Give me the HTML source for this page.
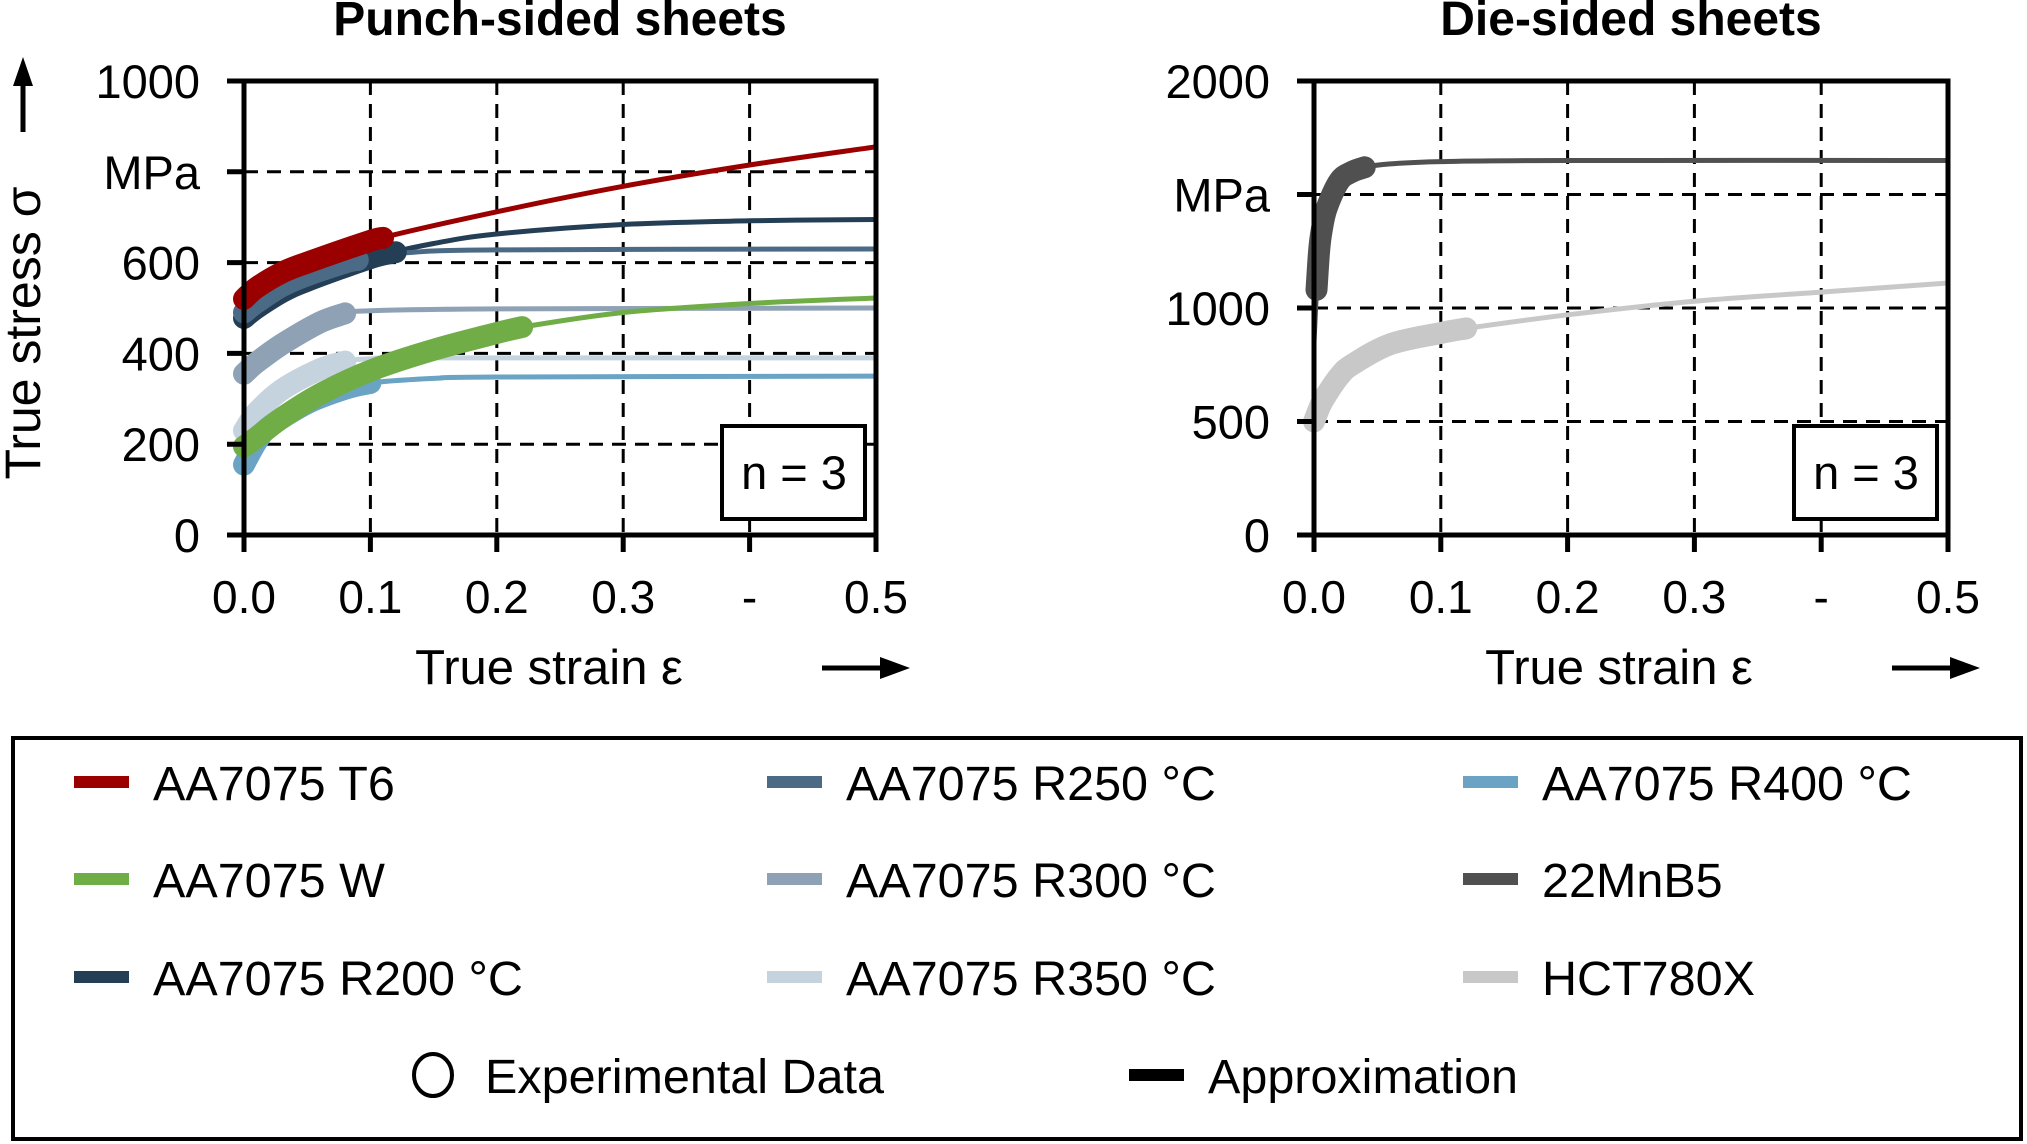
<!DOCTYPE html>
<html><head><meta charset="utf-8"><style>
html,body{margin:0;padding:0;background:#fff;}
svg{display:block;font-family:"Liberation Sans",sans-serif;}
</style></head><body>
<svg id="chart" width="2027" height="1144" viewBox="0 0 2027 1144" xmlns="http://www.w3.org/2000/svg">
<g id="plots"></g>
<g id="legend">
<rect x="13" y="738" width="2008" height="401" fill="none" stroke="#000" stroke-width="4"/>
</g>
</svg>
<script>
const xTicks = [0, 0.1, 0.2, 0.3, 0.4, 0.5];
const xTickLabels = ["0.0", "0.1", "0.2", "0.3", "-", "0.5"];
const leftYTicks = [0, 200, 400, 600, 800, 1000];
const leftYLabels = ["0", "200", "400", "600", "MPa", "1000"];
const rightYTicks = [0, 500, 1000, 1500, 2000];
const rightYLabels = ["0", "500", "1000", "MPa", "2000"];

const seriesNames = ["AA7075 T6","AA7075 W","AA7075 R200 °C","AA7075 R250 °C","AA7075 R300 °C","AA7075 R350 °C","AA7075 R400 °C","22MnB5","HCT780X"];
const seriesColors = ["#9b0000","#70ad47","#243f55","#4a6a86","#8fa2b5","#c5d3df","#6aa3c4","#505050","#c8c8c8"];

const t6Strain = [0,0.01,0.03,0.05,0.1,0.2,0.3,0.4,0.5];
const t6Stress = [520,545,578,600,648,712,768,815,855];
const t6ExpEnd = 0.11;
const r350Strain = [0,0.01,0.03,0.06,0.08,0.1,0.15,0.5];
const r350Stress = [230,270,320,365,382,388,390,390];
const r350ExpEnd = 0.08;
const r400Strain = [0,0.01,0.02,0.05,0.08,0.1,0.15,0.2,0.5];
const r400Stress = [155,205,238,290,322,335,345,348,350];
const r400ExpEnd = 0.1;
const r300Strain = [0,0.01,0.03,0.06,0.08,0.1,0.2,0.5];
const r300Stress = [355,380,420,468,488,494,498,500];
const r300ExpEnd = 0.08;
const wStrain = [0,0.01,0.03,0.06,0.1,0.15,0.2,0.22,0.3,0.4,0.5];
const wStress = [195,215,258,310,362,408,445,458,490,510,522];
const wExpEnd = 0.22;
const r250Strain = [0,0.01,0.03,0.05,0.08,0.1,0.13,0.2,0.5];
const r250Stress = [490,512,548,572,600,612,622,628,630];
const r250ExpEnd = 0.09;
const r200Strain = [0,0.01,0.03,0.05,0.1,0.15,0.2,0.3,0.4,0.5];
const r200Stress = [478,500,535,560,610,642,663,684,692,695];
const r200ExpEnd = 0.12;
const mnbStrain = [0,0.002,0.004,0.006,0.01,0.02,0.03,0.04,0.06,0.1,0.2,0.5];
const mnbStress = [850,1080,1250,1340,1440,1560,1600,1620,1635,1645,1650,1650];
const mnbExpStart = 0.002;
const mnbExpEnd = 0.04;
const hctStrain = [0,0.005,0.01,0.02,0.03,0.06,0.1,0.12,0.2,0.3,0.4,0.5];
const hctStress = [500,570,620,700,750,840,890,910,970,1030,1070,1110];
const hctExpEnd = 0.12;

const NS = "http://www.w3.org/2000/svg";
function mk(tag, attrs, parent){const e=document.createElementNS(NS,tag);for(const k in attrs)e.setAttribute(k,attrs[k]);parent.appendChild(e);return e;}
function smooth(p){
  if(p.length<2) return "";
  let d="M"+p[0][0].toFixed(1)+","+p[0][1].toFixed(1);
  for(let i=0;i<p.length-1;i++){
    const p0=p[Math.max(0,i-1)],p1=p[i],p2=p[i+1],p3=p[Math.min(p.length-1,i+2)];
    const c1=[p1[0]+(p2[0]-p0[0])/6,p1[1]+(p2[1]-p0[1])/6];
    const c2=[p2[0]-(p3[0]-p1[0])/6,p2[1]-(p3[1]-p1[1])/6];
    d+=" C"+c1[0].toFixed(1)+","+c1[1].toFixed(1)+" "+c2[0].toFixed(1)+","+c2[1].toFixed(1)+" "+p2[0].toFixed(1)+","+p2[1].toFixed(1);
  }
  return d;
}

function drawPanel(cfg){
  const g = mk("g",{},document.getElementById("plots"));
  
  
  const X = v => cfg.x0 + (v/0.5)*(cfg.x1-cfg.x0);
  const Y = v => cfg.y0 - (v/cfg.ymax)*(cfg.y0-cfg.y1);
  xTicks.forEach((t,i)=>{ if(i>0 && i<xTicks.length-1){
    const l=mk("line",{x1:X(t),x2:X(t),y1:cfg.y1,y2:cfg.y0,stroke:"#000","stroke-width":3,"stroke-dasharray":"14,9"},g);
    
    
  }});
  cfg.yt.forEach((t,i)=>{ if(i>0 && i<cfg.yt.length-1){
    const l=mk("line",{x1:cfg.x0,x2:cfg.x1,y1:Y(t),y2:Y(t),stroke:"#000","stroke-width":3,"stroke-dasharray":"14,9"},g);
    
    
  }});
  cfg.series.forEach(s=>{
    const pts = s.sx.map((v,i)=>[X(v),Y(s.sy[i])]);
    const a=mk("path",{d:smooth(pts),fill:"none",stroke:s.c,"stroke-width":5,"stroke-linejoin":"round","stroke-linecap":"round"},g);
    
    
  });
  cfg.series.forEach(s=>{
    const st = s.es||0;
    const ep=[];
    for(let i=0;i<s.sx.length;i++){
      if(s.sx[i]>=st && s.sx[i]<=s.ee) ep.push([s.sx[i],s.sy[i]]);
    }
    for(let i=1;i<s.sx.length;i++){ if(s.sx[i]>s.ee && s.sx[i-1]<s.ee){const f=(s.ee-s.sx[i-1])/(s.sx[i]-s.sx[i-1]);ep.push([s.ee,s.sy[i-1]+f*(s.sy[i]-s.sy[i-1])]);break;} }
    const e=mk("path",{d:smooth(ep.map(p=>[X(p[0]),Y(p[1])])),fill:"none",stroke:s.c,"stroke-width":s.w||22,"stroke-linejoin":"round","stroke-linecap":"round"},g);
    
    
  });
  const f=mk("rect",{x:cfg.x0,y:cfg.y1,width:cfg.x1-cfg.x0,height:cfg.y0-cfg.y1,fill:"none",stroke:"#000","stroke-width":5},g);
  
  
  xTicks.forEach((t,i)=>{
    const tk=mk("line",{x1:X(t),x2:X(t),y1:cfg.y0,y2:cfg.y0+17,stroke:"#000","stroke-width":5},g);
    
    
    const tx=mk("text",{x:X(t),y:cfg.y0+78,"font-size":46,"text-anchor":"middle"},g);
    tx.textContent=xTickLabels[i];
    
    
  });
  cfg.yt.forEach((t,i)=>{
    const tk=mk("line",{x1:cfg.x0-17,x2:cfg.x0,y1:Y(t),y2:Y(t),stroke:"#000","stroke-width":5},g);
    
    
    const tx=mk("text",{x:cfg.x0-44,y:Y(t)+17,"font-size":47,"text-anchor":"end"},g);
    tx.textContent=cfg.yl[i];
    
    
  });
  const tt=mk("text",{x:(cfg.x0+cfg.x1)/2,y:35,"font-size":48,"font-weight":"bold","text-anchor":"middle"},g);
  tt.textContent=cfg.title;
  
  
  const xt=mk("text",{x:cfg.x0+305,y:684,"font-size":49,"text-anchor":"middle"},g);
  xt.textContent="True strain ε";
  
  
  const ar=mk("line",{x1:cfg.x0+578,x2:cfg.x0+640,y1:668,y2:668,stroke:"#000","stroke-width":5},g);
  
  
  const ah=mk("polygon",{points:`${cfg.x0+666},668 ${cfg.x0+636},657 ${cfg.x0+636},679`,fill:"#000"},g);
  
  
  const nb=mk("rect",{x:cfg.x1-154,y:426,width:143,height:93,fill:"#fff",stroke:"#000","stroke-width":4},g);
  
  
  const nt=mk("text",{x:cfg.x1-82,y:489,"font-size":47,"text-anchor":"middle"},g);
  nt.textContent="n = 3";
  
  
}

drawPanel({name:"punch-sided-panel",title:"Punch-sided sheets",x0:244,x1:876,y0:535,y1:81,ymax:1000,yt:leftYTicks,yl:leftYLabels,
 series:[
  {id:"r350",sx:r350Strain,sy:r350Stress,ee:r350ExpEnd,c:seriesColors[5]},
  {id:"r400",sx:r400Strain,sy:r400Stress,ee:r400ExpEnd,c:seriesColors[6]},
  {id:"r300",sx:r300Strain,sy:r300Stress,ee:r300ExpEnd,c:seriesColors[4]},
  {id:"w",sx:wStrain,sy:wStress,ee:wExpEnd,c:seriesColors[1]},
  {id:"r200",sx:r200Strain,sy:r200Stress,ee:r200ExpEnd,c:seriesColors[2]},
  {id:"r250",sx:r250Strain,sy:r250Stress,ee:r250ExpEnd,c:seriesColors[3]},
  {id:"t6",sx:t6Strain,sy:t6Stress,ee:t6ExpEnd,c:seriesColors[0]}
 ]});
drawPanel({name:"die-sided-panel",title:"Die-sided sheets",x0:1314,x1:1948,y0:535,y1:81,ymax:2000,yt:rightYTicks,yl:rightYLabels,
 series:[
  {id:"hct780x",sx:hctStrain,sy:hctStress,ee:hctExpEnd,c:seriesColors[8]},
  {id:"22mnb5",sx:mnbStrain,sy:mnbStress,es:mnbExpStart,ee:mnbExpEnd,c:seriesColors[7]}
 ]});

const plots=document.getElementById("plots");
const yt=mk("text",{x:0,y:0,"font-size":50,"text-anchor":"middle",transform:"translate(40,333) rotate(-90)"},plots);
yt.textContent="True stress σ";


const ya=mk("line",{x1:23,x2:23,y1:132,y2:80,stroke:"#000","stroke-width":5},plots);


const yah=mk("polygon",{points:"23,57 13,86 33,86",fill:"#000"},plots);



const lg=document.getElementById("legend");
const colX=[74,767,1463];
const rowY=[782,879,977];
const order=[[0,3,6],[1,4,7],[2,5,8]];
order.forEach((row,r)=>row.forEach((si,c)=>{
  const ln=mk("rect",{x:colX[c],y:rowY[r]-6,width:55,height:12,fill:seriesColors[si]},lg);
  
  
  const tx=mk("text",{x:colX[c]+79,y:rowY[r]+18,"font-size":48.5},lg);
  tx.textContent=seriesNames[si];
  
  
}));
const cc=mk("ellipse",{cx:433,cy:1075,rx:19,ry:21,fill:"none",stroke:"#000","stroke-width":4},lg);


const ct=mk("text",{x:485,y:1093,"font-size":48.5},lg);
ct.textContent="Experimental Data";


const ak=mk("rect",{x:1129,y:1069,width:55,height:12,fill:"#000"},lg);


const at=mk("text",{x:1208,y:1093,"font-size":48.5},lg);
at.textContent="Approximation";


</script>
</body></html>
